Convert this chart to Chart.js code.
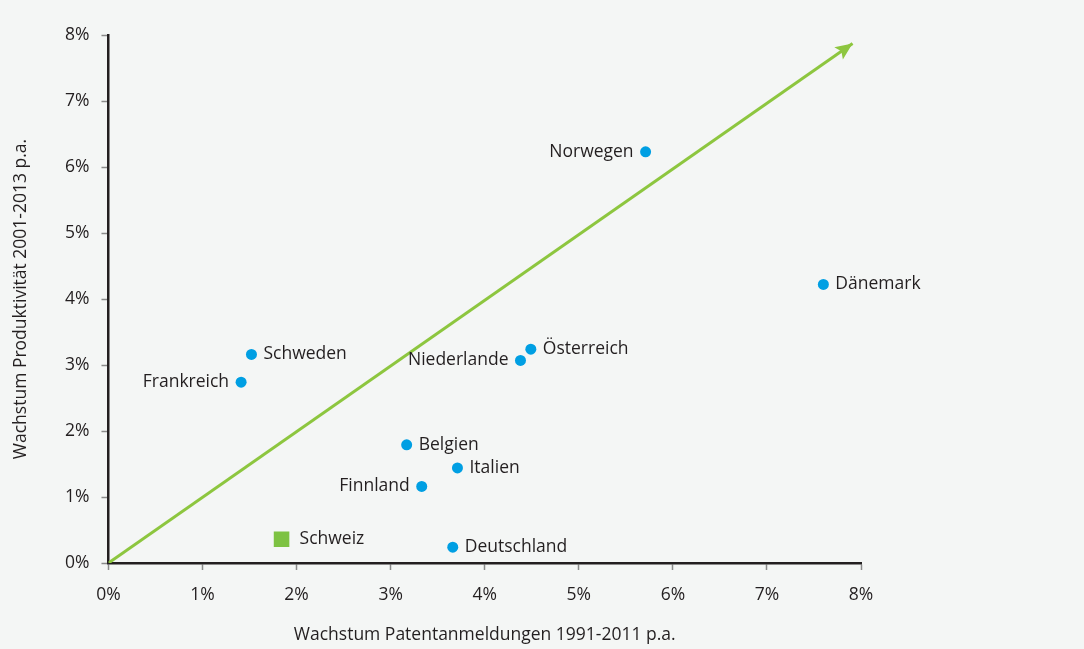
<!DOCTYPE html>
<html>
<head>
<meta charset="utf-8">
<script src="https://cdn.jsdelivr.net/npm/chart.js@4"></script>
<style>
  html, body { margin: 0; padding: 0; background: #f4f6f5; }
  #wrap { width: 1084px; height: 649px; }
</style>
</head>
<body>
<div id="wrap"><canvas id="chart"></canvas></div>
<script>
// Länder (Wachstum Patentanmeldungen vs. Produktivität, in %)
const countries = ['Norwegen', 'Dänemark', 'Österreich', 'Niederlande', 'Schweden', 'Frankreich', 'Belgien', 'Italien', 'Finnland', 'Deutschland'];
const patentGrowth = [5.71, 7.60, 4.49, 4.38, 1.52, 1.41, 3.17, 3.71, 3.33, 3.66];
const productivityGrowth = [6.23, 4.22, 3.24, 3.07, 3.16, 2.74, 1.79, 1.44, 1.16, 0.24];
const labelSide = ['left', 'right', 'right', 'left', 'right', 'left', 'right', 'right', 'left', 'right'];

const swissName = 'Schweiz';
const swissPatent = 1.84;
const swissProductivity = 0.36;

const trendX = [0, 7.91];
const trendY = [0, 7.87];

const tickValues = [0, 1, 2, 3, 4, 5, 6, 7, 8];

const textColor = '#231f20';
const fontFamily = '"Open Sans", "Noto Sans", sans-serif';

// Beschriftung der Punkte
const pointLabels = {
  id: 'pointLabels',
  afterDatasetsDraw(chart) {
    const ctx = chart.ctx;
    ctx.save();
    ctx.font = '17.5px ' + fontFamily;
    ctx.fillStyle = textColor;
    ctx.textBaseline = 'middle';
    chart.data.datasets.forEach((ds, di) => {
      if (!ds.names) return;
      const meta = chart.getDatasetMeta(di);
      meta.data.forEach((el, i) => {
        const side = ds.sides[i];
        const gap = ds.gap;
        ctx.textAlign = side === 'left' ? 'right' : 'left';
        ctx.fillText(ds.names[i], side === 'left' ? el.x - gap : el.x + gap, el.y);
      });
    });
    ctx.restore();
  }
};

// Pfeilspitze am Ende der Linie
const arrowHead = {
  id: 'arrowHead',
  afterDatasetsDraw(chart) {
    const meta = chart.getDatasetMeta(2);
    const pts = meta.data;
    if (pts.length < 2) return;
    const a = pts[pts.length - 2], b = pts[pts.length - 1];
    const ang = Math.atan2(b.y - a.y, b.x - a.x);
    const len = 17, w = 7.5;
    const ctx = chart.ctx;
    ctx.save();
    ctx.translate(b.x, b.y);
    ctx.rotate(ang);
    ctx.fillStyle = '#8dc63f';
    ctx.beginPath();
    ctx.moveTo(0, 0);
    ctx.lineTo(-len, -w);
    ctx.lineTo(-len * 0.8, 0);
    ctx.lineTo(-len, w);
    ctx.closePath();
    ctx.fill();
    ctx.restore();
  }
};

const axisCommon = {
  type: 'linear',
  min: 0,
  max: 8,
  afterBuildTicks: axis => { axis.ticks = tickValues.map(v => ({ value: v })); },
  grid: {
    display: true,
    drawOnChartArea: false,
    drawTicks: true,
    tickLength: 7,
    tickColor: '#8a8a8a',
    tickWidth: 1.5
  },
  border: { display: true, color: '#231f20', width: 2.5 },
  ticks: {
    color: textColor,
    font: { family: fontFamily, size: 17.5 },
    callback: v => v + '%'
  }
};

new Chart(document.getElementById('chart'), {
  type: 'scatter',
  data: {
    datasets: [
      {
        data: patentGrowth.map((x, i) => ({ x, y: productivityGrowth[i] })),
        names: countries,
        sides: labelSide,
        gap: 12,
        backgroundColor: '#009fe3',
        borderWidth: 0,
        pointRadius: 5.5,
        order: 1
      },
      {
        data: [{ x: swissPatent, y: swissProductivity }],
        names: [swissName],
        sides: ['right'],
        gap: 18,
        pointStyle: 'rect',
        backgroundColor: '#7dc242',
        borderWidth: 0,
        pointRadius: 11,
        order: 1
      },
      {
        type: 'line',
        data: trendX.map((x, i) => ({ x, y: trendY[i] })),
        borderColor: '#8dc63f',
        borderWidth: 3,
        pointRadius: 0,
        fill: false,
        order: 2
      }
    ]
  },
  options: {
    responsive: true,
    maintainAspectRatio: false,
    animation: false,
    layout: { padding: { left: 11, right: 223, top: 35, bottom: 3 } },
    plugins: {
      legend: { display: false },
      tooltip: { enabled: false }
    },
    scales: {
      x: Object.assign({}, axisCommon, {
        position: 'bottom',
        ticks: Object.assign({}, axisCommon.ticks, { padding: 15 }),
        title: {
          display: true,
          text: 'Wachstum Patentanmeldungen 1991-2011 p.a.',
          color: textColor,
          font: { family: fontFamily, size: 17.5 },
          padding: { top: 4, bottom: 0 }
        }
      }),
      y: Object.assign({}, axisCommon, {
        ticks: Object.assign({}, axisCommon.ticks, { padding: 12 }),
        title: {
          display: true,
          text: 'Wachstum Produktivität 2001-2013 p.a.',
          color: textColor,
          font: { family: fontFamily, size: 17.5 },
          padding: { top: 0, bottom: 21 }
        }
      })
    }
  },
  plugins: [pointLabels, arrowHead]
});
</script>
</body>
</html>
